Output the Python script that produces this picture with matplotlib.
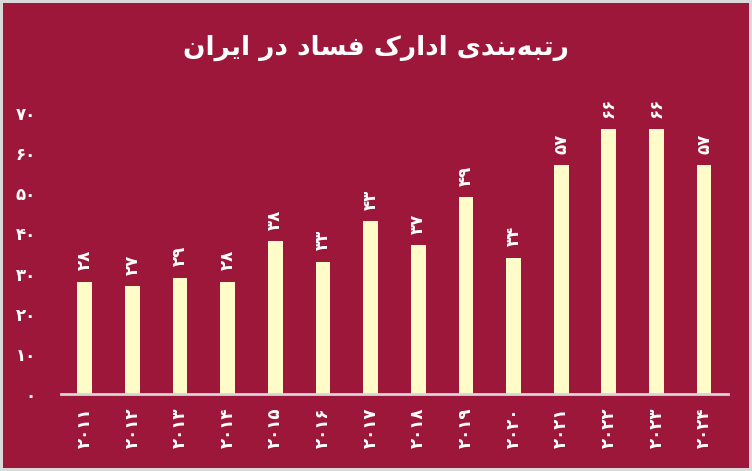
import matplotlib
matplotlib.use("Agg")
import matplotlib.pyplot as plt

BG = "#9D173B"
BAR = "#FFFCC9"
GRID = "#D6D6D6"

years = list(range(2011, 2025))
scores = [28, 27, 29, 28, 38, 33, 43, 37, 49, 34, 57, 66, 66, 57]
yticks = [0, 10, 20, 30, 40, 50, 60, 70]
title = "رتبه\u200cبندی ادارک فساد در ایران"

FA_DIGITS = str.maketrans("0123456789", "۰۱۲۳۴۵۶۷۸۹")

# isolated, final, initial, medial
FORMS = {
    "ا": ("\uFE8D", "\uFE8E", None, None),
    "د": ("\uFEA9", "\uFEAA", None, None),
    "ر": ("\uFEAD", "\uFEAE", None, None),
    "ب": ("\uFE8F", "\uFE90", "\uFE91", "\uFE92"),
    "ت": ("\uFE95", "\uFE96", "\uFE97", "\uFE98"),
    "س": ("\uFEB1", "\uFEB2", "\uFEB3", "\uFEB4"),
    "ف": ("\uFED1", "\uFED2", "\uFED3", "\uFED4"),
    "ن": ("\uFEE5", "\uFEE6", "\uFEE7", "\uFEE8"),
    "ه": ("\uFEE9", "\uFEEA", "\uFEEB", "\uFEEC"),
    "ک": ("\uFB8E", "\uFB8F", "\uFB90", "\uFB91"),
    "ی": ("\uFBFC", "\uFBFD", "\uFBFE", "\uFBFF"),
}


def shape(text):
    # minimal Persian shaping + reversal, matplotlib has no bidi support
    out = []
    for i, ch in enumerate(text):
        if ch not in FORMS:
            if ch != "\u200c":
                out.append(ch)
            continue
        prev = text[i - 1] if i > 0 else ""
        nxt = text[i + 1] if i + 1 < len(text) else ""
        join_prev = prev in FORMS and FORMS[prev][2] is not None
        join_next = FORMS[ch][2] is not None and nxt in FORMS
        iso, fin, ini, med = FORMS[ch]
        if join_prev and join_next:
            out.append(med)
        elif join_prev:
            out.append(fin)
        elif join_next:
            out.append(ini)
        else:
            out.append(iso)
    return "".join(reversed(out))


def fa(n):
    return str(n).translate(FA_DIGITS)


def main():
    fig = plt.figure(figsize=(7.52, 4.71), dpi=100, facecolor=BG,
                     edgecolor="#D9D9D9", linewidth=3)
    ax = fig.add_axes([0.081, 0.1635, 0.887, 0.5965])
    ax.set_facecolor(BG)

    x = list(range(len(years)))
    ax.bar(x, scores, width=0.31, color=BAR, zorder=2)

    for xi, v in zip(x, scores):
        ax.annotate(fa(v), (xi, v), xytext=(0, 8), textcoords="offset points",
                    ha="center", va="bottom", rotation=90, color="white",
                    fontsize=12, fontweight="bold", annotation_clip=False)

    ax.set_xlim(-0.5, len(years) - 0.5)
    ax.set_ylim(0, 70)
    ax.set_xticks(x)
    ax.set_xticklabels([fa(y) for y in years], rotation=90, color="white",
                       fontsize=12, fontweight="bold")
    ax.set_yticks(yticks)
    ax.set_yticklabels([fa(t) for t in yticks], color="white",
                       fontsize=12, fontweight="bold")
    ax.tick_params(axis="both", length=0)
    ax.tick_params(axis="x", pad=10)
    ax.tick_params(axis="y", pad=18)

    for s in ["top", "right", "left"]:
        ax.spines[s].set_visible(False)
    ax.spines["bottom"].set_color(GRID)
    ax.spines["bottom"].set_linewidth(2)

    fig.text(0.5, 0.898, shape(title), ha="center", va="center",
             color="white", fontsize=19, fontweight="bold")

    fig.savefig("out.png", dpi=100, facecolor=BG,
                edgecolor=fig.get_edgecolor())
    plt.close(fig)


if __name__ == "__main__":
    main()
